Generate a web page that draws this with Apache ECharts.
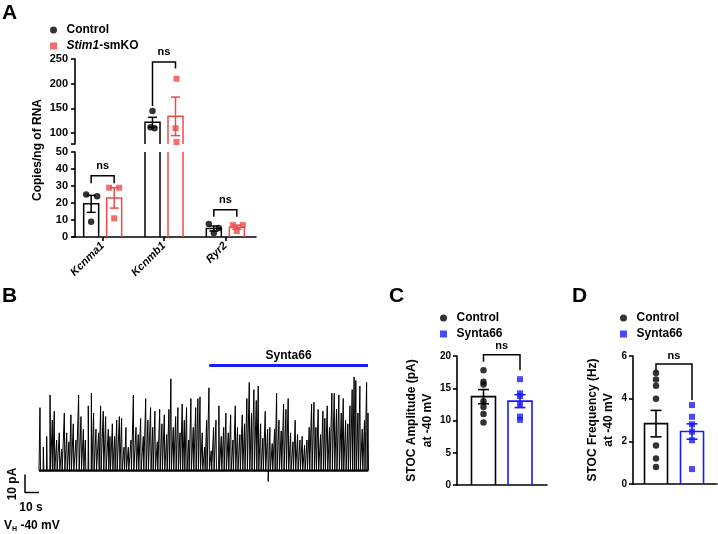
<!DOCTYPE html>
<html><head><meta charset="utf-8">
<script src="https://cdn.jsdelivr.net/npm/echarts@6/dist/echarts.min.js"></script>
<style>html,body{margin:0;padding:0;background:#fff}#c{width:718px;height:534px}</style>
</head><body><div id="c"></div>
<script>
// ---------- Panel A data ----------
const genes = ['Kcnma1', 'Kcnmb1', 'Ryr2'];
const ctrlMeanA = [19.5, 122, 5.0];
const ctrlSemA = [5.0, 10, 1.5];
const koMeanA = [23, 134, 5.8];
const koSemA = [6.0, 39, 1.2];
const ctrlPtsA = [[25, 24, 9], [145, 112, 110], [7.6, 5.3, 2.4]];
const koPtsA = [[29, 29, 11], [210, 110, 82], [7, 7, 3.5]];
const lowerTicksA = [0, 10, 20, 30, 40, 50];
const upperTicksA = [100, 150, 200, 250];
const bracketTopA = [36, 244, 16];
const bracketLeftA = [31.6, 155, 11.9];
const bracketRightA = [31.6, 231, 11.9];

// ---------- Panel B data (spike peaks of the trace, s and pA) ----------
const spikeT = [0.7,3.1,5.5,7.9,9.5,10.9,12.6,14.5,16.2,18.1,
19.8,21.4,22.8,24.5,26.4,28.3,30.0,31.7,33.1,35.2,
37.4,39.0,40.7,42.6,44.0,45.9,47.6,49.5,50.7,52.4,
54.0,55.5,57.4,59.0,60.7,62.1,63.8,65.7,67.4,69.3,
70.9,72.6,74.5,76.2,77.8,79.7,81.2,82.8,84.5,86.2,
87.8,89.5,91.2,92.8,94.2,95.9,97.6,99.2,100.7,102.3,
103.8,105.4,106.9,108.5,110.2,111.9,113.5,115.0,116.6,118.3,
119.7,121.4,123.0,124.7,126.4,128.5,130.2,131.9,133.5,135.2,
136.9,138.5,140.2,141.8,143.5,145.2,146.8,148.5,150.2,151.8,
153.5,155.2,156.6,158.3,159.9,161.6,163.3,164.9,166.6,168.3,
169.7,171.4,173.0,174.7,176.4,178.0,179.7,181.4,183.0,184.7,
186.4,188.0,189.7,191.4,193.0,194.7,196.4,197.8,199.4,201.1,
202.8,204.2,205.9,207.5,209.2,210.9,212.5,214.2,215.9,217.3,
219.0,220.6,222.1,223.7,225.1,226.3,227.8,229.2,230.9,232.5,
234.0,235.0];
const spikeAmp = [35,13,19,42,28,33,17,21,12,32,
21,16,31,26,17,42,30,23,17,36,
43,32,23,21,36,33,30,23,19,26,
19,28,30,29,13,24,13,17,42,24,
20,29,19,40,28,35,24,33,16,34,
26,31,20,34,51,24,30,35,21,37,
28,35,17,40,24,35,40,41,21,13,
28,46,11,24,28,36,19,24,32,21,
31,17,36,24,20,31,26,40,49,32,
45,39,47,26,18,33,23,24,15,23,
43,28,22,37,34,40,21,16,28,20,
17,19,14,17,24,37,38,24,34,20,
33,29,36,24,43,43,34,42,32,40,
28,26,36,45,52,50,32,47,23,28,
49,32];
const downT = [163.7];
const downAmp = [-6];
const traceStart = 0, traceEnd = 235.2;
const synStart = 121.6, synEnd = 235.0, synLevel = 58.3;
const scaleBarT = 10, scaleBarI = 10, scaleOriginT = -10, scaleOriginI = -2.2;

// ---------- Panel C data ----------
const groupsCD = ['Control', 'Synta66'];
const ampMean = [13.7, 13.0];
const ampSem = [1.1, 1.0];
const ampCtrl = [17.8, 16.0, 15.6, 13.0, 12.1, 11.0, 9.7];
const ampSyn = [16.4, 14.2, 13.8, 12.4, 10.6, 10.1];
const ampBracket = [20.2, 19.1, 17.8];

// ---------- Panel D data ----------
const freqMean = [2.83, 2.46];
const freqSem = [0.62, 0.36];
const freqCtrl = [5.2, 4.9, 4.6, 4.0, 1.8, 1.2, 0.8];
const freqSyn = [3.7, 3.15, 2.8, 2.45, 2.05, 0.7];
const freqBracket = [5.62, 5.26, 3.94];

// ---------- styles ----------
const FONT = 'Liberation Sans';
const BLACK = '#000000', RED = '#f04848', BLUE = '#1a1aff';
const axisLine = {show: true, lineStyle: {color: BLACK, width: 1.6}};
const axisTick = {show: true, length: 4, lineStyle: {color: BLACK, width: 1.6}};
// horizontal scatter jitter (px) for panel A points
const ctrlJitA = [[-5, 6, 0], [0, -2, 2], [-5, 5, 0]];
const koJitA = [[-5, 5, 0], [1, 0, 1], [-4, 6, 0]];

function barErr(color, offsetPx, widthPx, capPx, lw) {
  return function (params, api) {
    const x = api.value(0), m = api.value(1), s = api.value(2);
    const top = api.coord([x, m]);
    const base = api.coord([x, 0]);
    const cx = top[0] + offsetPx, hw = widthPx / 2, cw = capPx / 2;
    const hi = api.coord([x, m + s])[1], lo = api.coord([x, m - s])[1];
    const st = {stroke: color, lineWidth: lw, fill: null};
    return {type: 'group', children: [
      {type: 'polyline', shape: {points: [[cx - hw, base[1]], [cx - hw, top[1]], [cx + hw, top[1]], [cx + hw, base[1]]]}, style: st},
      {type: 'line', shape: {x1: cx, y1: hi, x2: cx, y2: lo}, style: st},
      {type: 'line', shape: {x1: cx - cw, y1: hi, x2: cx + cw, y2: hi}, style: st},
      {type: 'line', shape: {x1: cx - cw, y1: lo, x2: cx + cw, y2: lo}, style: st}
    ]};
  };
}
function bracket(off1, off2, txtGap) {
  return function (params, api) {
    const x1 = api.value(0), x2 = api.value(1), yt = api.value(2), yl = api.value(3), yr = api.value(4);
    const a = api.coord([x1, yt]), b = api.coord([x2, yt]);
    const l = api.coord([x1, yl]), r = api.coord([x2, yr]);
    const ax = a[0] + off1, bx = b[0] + off2;
    return {type: 'group', children: [
      {type: 'polyline', shape: {points: [[ax, l[1]], [ax, a[1]], [bx, a[1]], [bx, r[1]]]}, style: {stroke: BLACK, lineWidth: 1.5, fill: null}},
      {type: 'text', x: (ax + bx) / 2, y: a[1] - txtGap, style: {text: 'ns', align: 'center', verticalAlign: 'bottom', fontSize: 11, fontWeight: 'bold', fontFamily: FONT, fill: BLACK}}
    ]};
  };
}

const BAR_OFF_A = 11.5, BAR_W_A = 15, CAP_A = 9;
function scatterA(pts, off, jit) {
  const out = [];
  pts.forEach((arr, ci) => arr.forEach((v, k) => out.push({value: [ci, v], symbolOffset: [off + jit[ci][k], 0]})));
  return out;
}

const series = [];
// Panel A: both broken-axis segments
[0, 1].forEach(g => {
  series.push({type: 'custom', name: 'ctrlBarA' + g, xAxisIndex: g, yAxisIndex: g, clip: true, z: 2,
    renderItem: barErr(BLACK, -BAR_OFF_A, BAR_W_A, CAP_A, 1.5),
    data: genes.map((_, i) => [i, ctrlMeanA[i], ctrlSemA[i]])});
  series.push({type: 'custom', name: 'koBarA' + g, xAxisIndex: g, yAxisIndex: g, clip: true, z: 2,
    renderItem: barErr(RED, BAR_OFF_A, BAR_W_A, CAP_A, 1.5),
    data: genes.map((_, i) => [i, koMeanA[i], koSemA[i]])});
  series.push({type: 'scatter', name: 'Control', xAxisIndex: g, yAxisIndex: g, clip: true, z: 3,
    symbol: 'circle', symbolSize: 6.5, itemStyle: {color: BLACK}, data: scatterA(ctrlPtsA, -BAR_OFF_A, ctrlJitA)});
  series.push({type: 'scatter', name: 'Stim1-smKO', xAxisIndex: g, yAxisIndex: g, clip: true, z: 3,
    symbol: 'rect', symbolSize: 6, itemStyle: {color: RED}, data: scatterA(koPtsA, BAR_OFF_A, koJitA)});
});
series.push({type: 'custom', name: 'sigAlow', xAxisIndex: 1, yAxisIndex: 1, clip: false, z: 4,
  renderItem: bracket(-BAR_OFF_A, BAR_OFF_A, 4),
  data: [0, 2].map(i => [i, i, bracketTopA[i], bracketLeftA[i], bracketRightA[i]])});
series.push({type: 'custom', name: 'sigAup', xAxisIndex: 0, yAxisIndex: 0, clip: false, z: 4,
  renderItem: bracket(-BAR_OFF_A, BAR_OFF_A, 4),
  data: [1].map(i => [i, i, bracketTopA[i], bracketLeftA[i], bracketRightA[i]])});

// Panel B trace
const events = spikeT.map((t, i) => [t, spikeAmp[i]]).concat(downT.map((t, i) => [t, downAmp[i]]));
events.sort((a, b) => a[0] - b[0]);
const traceData = [[traceStart, 0]];
events.forEach(([t, a]) => { traceData.push([t - 0.15, 0], [t, a], [t + 0.35, 0]); });
traceData.push([traceEnd, 0]);
series.push({type: 'line', name: 'baseline', xAxisIndex: 2, yAxisIndex: 2, showSymbol: false, symbol: 'none',
  lineStyle: {color: BLACK, width: 2.2}, data: [[traceStart, 0], [traceEnd, 0]], silent: true});
series.push({type: 'line', name: 'trace', xAxisIndex: 2, yAxisIndex: 2, showSymbol: false, symbol: 'none', sampling: null,
  lineStyle: {color: BLACK, width: 1}, data: traceData, silent: true,
  markLine: {silent: true, symbol: 'none', animation: false,
    lineStyle: {color: BLUE, width: 3, type: 'solid'},
    label: {show: true, position: 'insideMiddleTop', formatter: 'Synta66', color: BLACK, fontWeight: 'bold', fontSize: 12, fontFamily: FONT, distance: 4},
    data: [[{coord: [synStart, synLevel]}, {coord: [synEnd, synLevel]}]]}});
series.push({type: 'line', name: 'scalebar', xAxisIndex: 2, yAxisIndex: 2, showSymbol: false, symbol: 'none', silent: true,
  lineStyle: {color: BLACK, width: 1.5},
  data: [[scaleOriginT, scaleOriginI], [scaleOriginT, scaleOriginI - scaleBarI], [scaleOriginT + scaleBarT, scaleOriginI - scaleBarI]]});

// Panels C and D
function cdSeries(g, means, sems, ctrlPts, synPts, br, barW, cap) {
  series.push({type: 'custom', name: 'ctrlBar' + g, xAxisIndex: g, yAxisIndex: g, clip: false, z: 2,
    renderItem: barErr(BLACK, 0, barW, cap, 1.6), data: [[1, means[0], sems[0]]]});
  series.push({type: 'custom', name: 'synBar' + g, xAxisIndex: g, yAxisIndex: g, clip: false, z: 2,
    renderItem: barErr(BLUE, 0, barW, cap, 1.6), data: [[2, means[1], sems[1]]]});
  series.push({type: 'scatter', name: groupsCD[0], xAxisIndex: g, yAxisIndex: g, z: 1, symbol: 'circle', symbolSize: 6.5,
    itemStyle: {color: BLACK}, data: ctrlPts.map(v => [1, v])});
  series.push({type: 'scatter', name: groupsCD[1], xAxisIndex: g, yAxisIndex: g, z: 1, symbol: 'rect', symbolSize: 6,
    itemStyle: {color: BLUE}, data: synPts.map(v => [2, v])});
  series.push({type: 'custom', name: 'sig' + g, xAxisIndex: g, yAxisIndex: g, clip: false, z: 4,
    renderItem: bracket(0, 0, 3), data: [[1, 2, br[0], br[1], br[2]]]});
}
cdSeries(3, ampMean, ampSem, ampCtrl, ampSyn, ampBracket, 24, 11);
cdSeries(4, freqMean, freqSem, freqCtrl, freqSyn, freqBracket, 23, 11);

const lblY = {color: BLACK, fontWeight: 'bold', fontFamily: FONT};
const squareIcon = 'path://M0,0L10,0L10,10L0,10Z';
function legend(left, top, names) {
  return {left: left, top: top, orient: 'vertical', selectedMode: false, itemWidth: 16, itemHeight: 7, itemGap: 2,
    textStyle: {color: BLACK, fontSize: 12, fontWeight: 'bold', fontFamily: FONT, lineHeight: 14,
      rich: {i: {fontStyle: 'italic', fontWeight: 'bold', fontSize: 12, fontFamily: FONT, color: BLACK}}},
    formatter: n => n === 'Stim1-smKO' ? '{i|Stim1}-smKO' : n,
    data: [{name: names[0], icon: 'circle'}, {name: names[1], icon: squareIcon}]};
}

const option = {
  animation: false,
  backgroundColor: '#ffffff',
  textStyle: {fontFamily: FONT},
  grid: [
    {left: 72, top: 59, width: 184, height: 85},
    {left: 72, top: 152, width: 184, height: 85},
    {left: 25, top: 341, width: 343, height: 153},
    {left: 457, top: 356, width: 90, height: 129},
    {left: 633, top: 356, width: 84, height: 128}
  ],
  xAxis: [
    {gridIndex: 0, type: 'category', data: genes, show: false},
    {gridIndex: 1, type: 'category', data: genes, axisLine: axisLine,
      axisTick: {show: true, alignWithLabel: true, length: 4, lineStyle: {color: BLACK, width: 1.6}},
      axisLabel: {rotate: 45, fontStyle: 'italic', fontWeight: 'bold', fontSize: 11, color: BLACK, fontFamily: FONT, margin: 7}},
    {gridIndex: 2, type: 'value', min: -10, max: 235, show: false},
    {gridIndex: 3, type: 'value', min: 0.274, max: 2.74, axisLine: axisLine, axisTick: {show: false}, axisLabel: {show: false}, splitLine: {show: false}},
    {gridIndex: 4, type: 'value', min: 0.361, max: 2.694, axisLine: axisLine, axisTick: {show: false}, axisLabel: {show: false}, splitLine: {show: false}}
  ],
  yAxis: [
    {gridIndex: 0, type: 'value', min: 78, max: 250, offset: -3, axisLine: axisLine,
      axisTick: Object.assign({}, axisTick, {customValues: [78].concat(upperTicksA)}),
      axisLabel: Object.assign({}, lblY, {fontSize: 11, margin: 7, customValues: upperTicksA}), splitLine: {show: false}},
    {gridIndex: 1, type: 'value', min: 0, max: 50, offset: -3, axisLine: axisLine,
      axisTick: Object.assign({}, axisTick, {customValues: lowerTicksA}),
      axisLabel: Object.assign({}, lblY, {fontSize: 11, margin: 7, customValues: lowerTicksA}), splitLine: {show: false}},
    {gridIndex: 2, type: 'value', min: -13, max: 72, show: false},
    {gridIndex: 3, type: 'value', min: 0, max: 20, interval: 5, axisLine: axisLine, axisTick: axisTick,
      axisLabel: Object.assign({}, lblY, {fontSize: 10, margin: 6}), splitLine: {show: false},
      name: 'STOC Amplitude (pA)\nat -40 mV', nameLocation: 'middle', nameRotate: 90, nameGap: 16,
      nameTextStyle: {color: BLACK, fontWeight: 'bold', fontSize: 12, fontFamily: FONT, lineHeight: 16}},
    {gridIndex: 4, type: 'value', min: 0, max: 6, interval: 2, axisLine: axisLine, axisTick: axisTick,
      axisLabel: Object.assign({}, lblY, {fontSize: 10, margin: 6}), splitLine: {show: false},
      name: 'STOC Frequency (Hz)\nat -40 mV', nameLocation: 'middle', nameRotate: 90, nameGap: 16,
      nameTextStyle: {color: BLACK, fontWeight: 'bold', fontSize: 12, fontFamily: FONT, lineHeight: 16}}
  ],
  legend: [
    legend(45, 18, ['Control', 'Stim1-smKO']),
    legend(435, 306, ['Control', 'Synta66']),
    legend(615, 306, ['Control', 'Synta66'])
  ],
  graphic: [
    {type: 'text', left: 2, top: 3, style: {text: 'A', font: 'bold 21px "Liberation Sans"', fill: BLACK}},
    {type: 'text', left: 2, top: 286, style: {text: 'B', font: 'bold 21px "Liberation Sans"', fill: BLACK}},
    {type: 'text', left: 389, top: 286, style: {text: 'C', font: 'bold 21px "Liberation Sans"', fill: BLACK}},
    {type: 'text', left: 572, top: 286, style: {text: 'D', font: 'bold 21px "Liberation Sans"', fill: BLACK}},
    {type: 'text', x: 38, y: 150, rotation: Math.PI / 2,
      style: {text: 'Copies/ng of RNA', align: 'center', verticalAlign: 'middle', font: 'bold 12px "Liberation Sans"', fill: BLACK}},
    {type: 'text', x: 13, y: 484, rotation: Math.PI / 2,
      style: {text: '10 pA', align: 'center', verticalAlign: 'middle', font: 'bold 12px "Liberation Sans"', fill: BLACK}},
    {type: 'text', x: 31, y: 508,
      style: {text: '10 s', align: 'center', verticalAlign: 'middle', font: 'bold 12px "Liberation Sans"', fill: BLACK}},
    {type: 'text', x: 4, y: 526,
      style: {text: '{v|V}{s|H}{v| -40 mV}', verticalAlign: 'middle',
        rich: {v: {fontSize: 12, fontWeight: 'bold', fontFamily: FONT, fill: BLACK},
               s: {fontSize: 7, fontWeight: 'bold', fontFamily: FONT, fill: BLACK, padding: [6, 0, 0, 0]}}}}
  ],
  series: series
};
const chart = echarts.init(document.getElementById('c'));
chart.setOption(option);
</script>
</body></html>
